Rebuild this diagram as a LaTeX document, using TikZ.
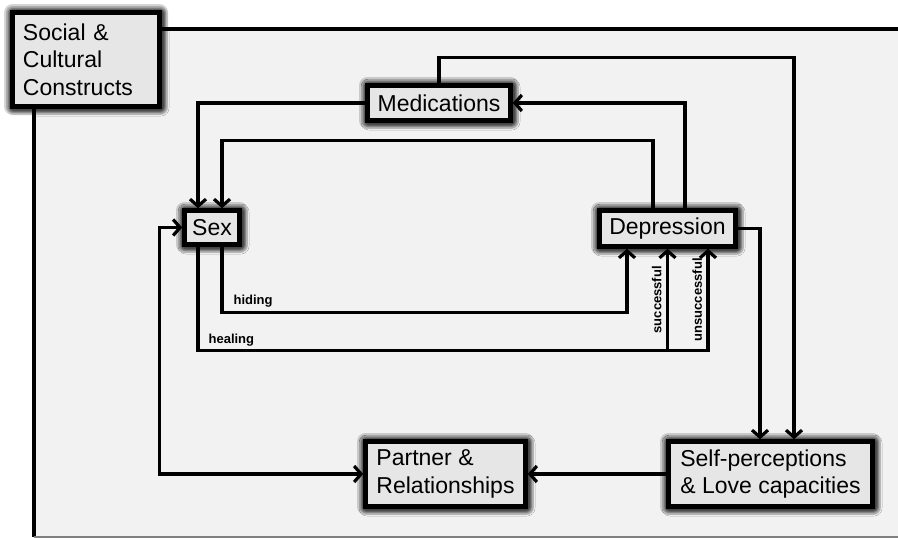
\documentclass[tikz,border=0pt]{standalone}
\usepackage{fontspec}
\setmainfont{Liberation Sans}
\usetikzlibrary{arrows.meta,shadows.blur}
\definecolor{boxfill}{HTML}{E6E6E6}
\definecolor{framefill}{HTML}{F2F2F2}

\begin{document}
\begin{tikzpicture}[x=1pt,y=-1pt,
    halo/.style={preaction={draw=black,line width=#1,line join=round,draw opacity=0.17}},
    box/.style={draw=black,line width=4.5pt,fill=boxfill,inner sep=0pt,
      blur shadow={shadow xshift=1.5pt,shadow yshift=-1.5pt,
        shadow blur radius=8pt,shadow blur steps=10,shadow opacity=100,shadow scale=1},
      halo=17pt,halo=13pt,halo=10pt,halo=8pt,
      font=\fontsize{23}{27.5}\selectfont},
    conn/.style={line width=3.2pt,-{Straight Barb[length=7pt,width=16pt]}},
    lbl/.style={font=\fontsize{13}{15}\selectfont\bfseries,inner sep=0pt}]
  \useasboundingbox (0,0) rectangle (898,538);
  \fill[framefill] (34,29) rectangle (898,538);
  \draw[line width=3.5pt] (898,29) -- (34,29) -- (34,537);
  \draw[gray,line width=1.5pt] (34,537) -- (898,537);

  \node[box,minimum width=147pt,minimum height=94pt,text width=126pt,align=left]
    (scc) at (86,59.5) {Social \&\\Cultural\\Constructs};
  \node[box,minimum width=143pt,minimum height=35pt] (med) at (439,103) {Medications};
  \node[box,minimum width=55pt,minimum height=34pt] (sex) at (212,227.5) {Sex};
  \node[box,minimum width=136pt,minimum height=36pt] (dep) at (667.5,228.5) {Depression};
  \node[box,minimum width=160pt,minimum height=65pt,align=left]
    (partner) at (445.5,474) {Partner \&\\Relationships};
  \node[box,minimum width=204pt,minimum height=65pt,align=left]
    (self) at (770.5,474) {Self-perceptions\\\& Love capacities};

  \begin{scope}
    \draw[conn] (med.west) -| ([xshift=-14pt]sex.north);
    \draw[conn] ([xshift=-14.5pt]dep.north) -- ++(0,-68) -| ([xshift=10pt]sex.north);
    \draw[conn] ([xshift=17.5pt]dep.north) |- (med.east);
    \draw[conn] (med.north) -- ++(0,-26) -| ([xshift=23.5pt]self.north);
    \draw[conn] (dep.east) -| ([xshift=-10.5pt]self.north);
    \draw[conn] (self.west) -- (partner.west -| partner.east);
    \draw[line width=3.2pt,{Straight Barb[length=7pt,width=16pt]}-{Straight Barb[length=7pt,width=16pt]}]
      (sex.west) -- ++(-23,0) |- (partner.west);
    \draw[conn] ([xshift=10pt]sex.south) -- ++(0,66)
      node[lbl,anchor=base west,xshift=10pt,yshift=8pt] (hidinglbl) {hiding}
      -| ([xshift=-40.5pt]dep.south);
    \draw[conn] ([xshift=-14pt]sex.south) -- ++(0,104) coordinate (healcorner)
      node[lbl,anchor=base west,xshift=9pt,yshift=7pt] (healinglbl) {healing}
      -| node[pos=0.75,lbl,rotate=90,anchor=south,outer sep=6pt] (unsucclbl) {unsuccessful}
      ([xshift=40.5pt]dep.south);
    \draw[conn] (healcorner -| dep.south) --
      node[lbl,rotate=90,anchor=south,outer sep=6pt] (succlbl) {successful} (dep.south);
  \end{scope}
\end{tikzpicture}
\end{document}
